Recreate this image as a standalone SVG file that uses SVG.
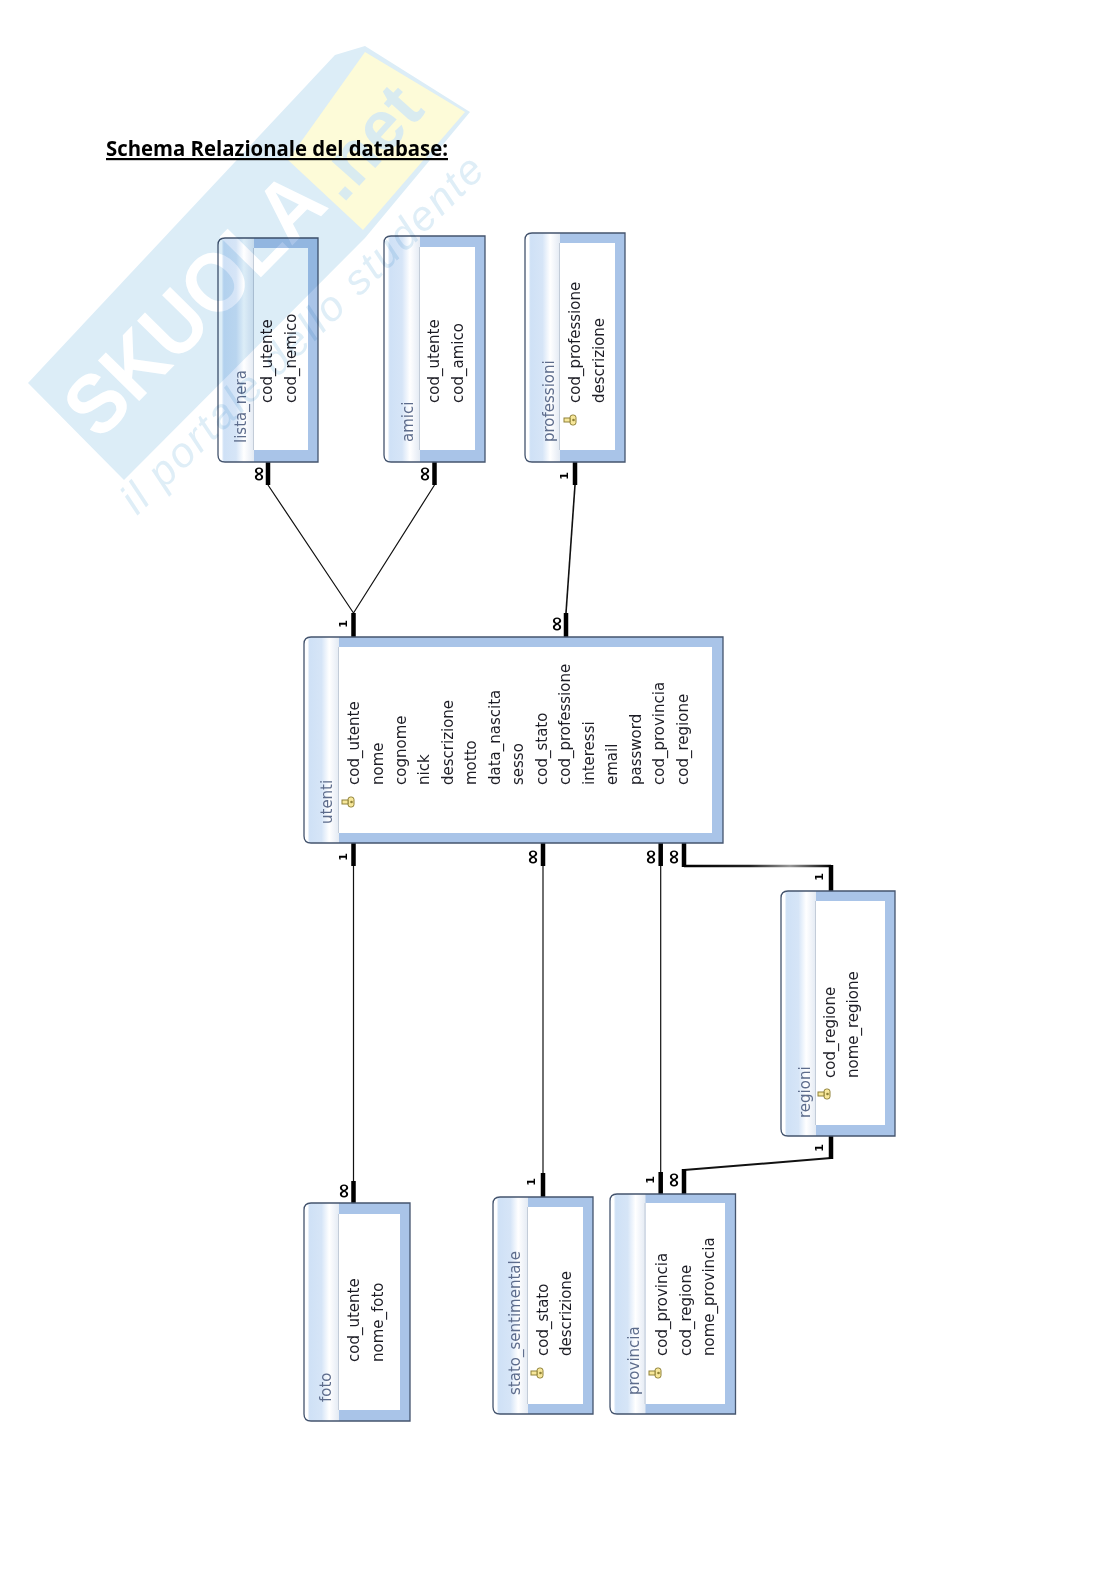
<svg xmlns="http://www.w3.org/2000/svg" xmlns:xlink="http://www.w3.org/1999/xlink" width="1116" height="1579" viewBox="0 0 1116 1579">
<style>
text{font-family:"DejaVu Sans","Liberation Sans",sans-serif}
.f{font-size:15px;fill:#1c1c24}
.t{font-size:15px;fill:#5d6c8c}
.frame{fill:#a9c4e8}
.outline{fill:none;stroke:#44546e;stroke-width:1.3}
.inner{fill:#fff}
.sep{fill:#c3ccd8}
.thick{fill:none;stroke:#000;stroke-width:4.5}
.thin{fill:none;stroke:#111;stroke-width:1.2}
.mid{fill:none;stroke:#111;stroke-width:2}
.c{font-family:"DejaVu Sans",sans-serif;font-weight:700;fill:#000;text-anchor:middle}
.inf{font-size:20px}
.one{font-size:11px}
.title{font-family:"Open Sans","Liberation Sans",sans-serif;font-weight:700;font-size:22px;fill:#000;text-decoration:underline}
</style>
<defs>
<linearGradient id="band" x1="0" y1="0" x2="1" y2="0">
<stop offset="0" stop-color="#fff"/><stop offset="0.1" stop-color="#fff"/><stop offset="0.16" stop-color="#cfe1f6"/><stop offset="0.5" stop-color="#d6e5f7"/><stop offset="0.72" stop-color="#fff"/><stop offset="0.85" stop-color="#f2f5fa"/><stop offset="1" stop-color="#e3eaf3"/>
</linearGradient>
<linearGradient id="fade" gradientUnits="userSpaceOnUse" x1="684" y1="0" x2="831" y2="0">
<stop offset="0" stop-color="#000"/><stop offset="0.45" stop-color="#222"/><stop offset="0.72" stop-color="#999"/><stop offset="1" stop-color="#000"/>
</linearGradient>
<g id="key">
<rect x="-5" y="-3" width="10" height="6" rx="2.5" fill="#f7e79a" stroke="#8f8138" stroke-width="1"/>
<rect x="-2" y="3" width="4" height="6" fill="#f7e79a" stroke="#8f8138" stroke-width="1"/>
<circle cx="0" cy="-0.5" r="1.3" fill="#8f8138"/>
</g>
</defs>
<rect width="1116" height="1579" fill="#fff"/>
<text class="title" x="106" y="156" textLength="342" lengthAdjust="spacingAndGlyphs">Schema Relazionale del database:</text>

<g id="connectors">
<path class="thin" d="M268 485L353.500 613M434.500 485L353.500 613"/>
<path class="mid" d="M575 485L566 613" style="stroke-width:1.6"/>
<path class="thin" d="M353.500 866V1181M543 866V1173M660.700 866V1172"/>
<path d="M684 866H831" fill="none" stroke="url(#fade)" stroke-width="2.500"/>
<path class="mid" d="M831 1158L684 1170"/>
<path class="thick" d="M268 462V485M434.500 462V485M575 462V485M353.500 613V637M566 613V637M353.500 843V866M543 843V866M660.700 843V866M684 843V867M831 865V891M831 1136V1159M684 1169V1194M660.700 1172V1194M543 1173V1197M353.500 1181V1203"/>
<g class="c">
<text class="inf" transform="translate(264.500 474) rotate(-90)">∞</text>
<text class="inf" transform="translate(430.500 474) rotate(-90)">∞</text>
<text class="one" transform="translate(568 476) rotate(-90)">1</text>
<text class="one" transform="translate(346.500 624) rotate(-90)">1</text>
<text class="inf" transform="translate(562.500 624) rotate(-90)">∞</text>
<text class="one" transform="translate(346.500 857) rotate(-90)">1</text>
<text class="inf" transform="translate(538.500 857) rotate(-90)">∞</text>
<text class="inf" transform="translate(656.500 857) rotate(-90)">∞</text>
<text class="inf" transform="translate(679.500 857) rotate(-90)">∞</text>
<text class="one" transform="translate(823 877) rotate(-90)">1</text>
<text class="one" transform="translate(823 1148) rotate(-90)">1</text>
<text class="inf" transform="translate(350 1191) rotate(-90)">∞</text>
<text class="one" transform="translate(535 1182) rotate(-90)">1</text>
<text class="one" transform="translate(654 1180) rotate(-90)">1</text>
<text class="inf" transform="translate(679.500 1180) rotate(-90)">∞</text>
</g>
</g>

<g id="lista_nera">
<path class="frame" d="M225 238H318V462H225Q218 462 218 455V245Q218 238 225 238Z"/>
<path d="M225 238H254V462H225Q218 462 218 455V245Q218 238 225 238Z" fill="url(#band)"/>
<rect class="inner" x="254" y="248" width="54" height="202"/>
<rect class="sep" x="253" y="248" width="1" height="202"/>
<path class="outline" d="M225 238H318V462H225Q218 462 218 455V245Q218 238 225 238Z"/>
<text class="t" transform="translate(246 443) rotate(-90)">lista_nera</text>
<text class="f" transform="translate(272 403) rotate(-90)">cod_utente</text>
<text class="f" transform="translate(296 403) rotate(-90)">cod_nemico</text>
</g>

<g id="amici">
<path class="frame" d="M391 236H485V462H391Q384 462 384 455V243Q384 236 391 236Z"/>
<path d="M391 236H420V462H391Q384 462 384 455V243Q384 236 391 236Z" fill="url(#band)"/>
<rect class="inner" x="420" y="247" width="55" height="203"/>
<rect class="sep" x="419" y="247" width="1" height="203"/>
<path class="outline" d="M391 236H485V462H391Q384 462 384 455V243Q384 236 391 236Z"/>
<text class="t" transform="translate(413 442) rotate(-90)">amici</text>
<text class="f" transform="translate(439 403) rotate(-90)">cod_utente</text>
<text class="f" transform="translate(463 403) rotate(-90)">cod_amico</text>
</g>

<g id="professioni">
<path class="frame" d="M532 233H625V462H532Q525 462 525 455V240Q525 233 532 233Z"/>
<path d="M532 233H560V462H532Q525 462 525 455V240Q525 233 532 233Z" fill="url(#band)"/>
<rect class="inner" x="560" y="243" width="55" height="207"/>
<rect class="sep" x="559" y="243" width="1" height="207"/>
<path class="outline" d="M532 233H625V462H532Q525 462 525 455V240Q525 233 532 233Z"/>
<text class="t" transform="translate(554 442) rotate(-90)">professioni</text>
<use xlink:href="#key" href="#key" transform="translate(573 420) rotate(90)"/>
<text class="f" transform="translate(580 403) rotate(-90)">cod_professione</text>
<text class="f" transform="translate(604 403) rotate(-90)">descrizione</text>
</g>

<g id="utenti">
<path class="frame" d="M311 637H723V843H311Q304 843 304 836V644Q304 637 311 637Z"/>
<path d="M311 637H339V843H311Q304 843 304 836V644Q304 637 311 637Z" fill="url(#band)"/>
<rect class="inner" x="339" y="647" width="373" height="186"/>
<rect class="sep" x="338" y="647" width="1" height="186"/>
<path class="outline" d="M311 637H723V843H311Q304 843 304 836V644Q304 637 311 637Z"/>
<text class="t" transform="translate(332 824) rotate(-90)">utenti</text>
<use xlink:href="#key" href="#key" transform="translate(351 802) rotate(90)"/>
<text class="f" transform="translate(359 785) rotate(-90)">cod_utente</text>
<text class="f" transform="translate(382.500 785) rotate(-90)">nome</text>
<text class="f" transform="translate(406 785) rotate(-90)">cognome</text>
<text class="f" transform="translate(429.400 785) rotate(-90)">nick</text>
<text class="f" transform="translate(452.800 785) rotate(-90)">descrizione</text>
<text class="f" transform="translate(476.300 785) rotate(-90)">motto</text>
<text class="f" transform="translate(499.800 785) rotate(-90)">data_nascita</text>
<text class="f" transform="translate(523.200 785) rotate(-90)">sesso</text>
<text class="f" transform="translate(546.700 785) rotate(-90)">cod_stato</text>
<text class="f" transform="translate(570.200 785) rotate(-90)">cod_professione</text>
<text class="f" transform="translate(593.600 785) rotate(-90)">interessi</text>
<text class="f" transform="translate(617 785) rotate(-90)">email</text>
<text class="f" transform="translate(640.500 785) rotate(-90)">password</text>
<text class="f" transform="translate(664 785) rotate(-90)">cod_provincia</text>
<text class="f" transform="translate(687.500 785) rotate(-90)">cod_regione</text>
</g>

<g id="regioni">
<path class="frame" d="M788 891H895V1136H788Q781 1136 781 1129V898Q781 891 788 891Z"/>
<path d="M788 891H816V1136H788Q781 1136 781 1129V898Q781 891 788 891Z" fill="url(#band)"/>
<rect class="inner" x="816" y="901" width="69" height="224"/>
<rect class="sep" x="815" y="901" width="1" height="224"/>
<path class="outline" d="M788 891H895V1136H788Q781 1136 781 1129V898Q781 891 788 891Z"/>
<text class="t" transform="translate(810 1118) rotate(-90)">regioni</text>
<use xlink:href="#key" href="#key" transform="translate(827 1094) rotate(90)"/>
<text class="f" transform="translate(834.500 1078) rotate(-90)">cod_regione</text>
<text class="f" transform="translate(858 1078) rotate(-90)">nome_regione</text>
</g>

<g id="foto">
<path class="frame" d="M311 1203H410V1421H311Q304 1421 304 1414V1210Q304 1203 311 1203Z"/>
<path d="M311 1203H339V1421H311Q304 1421 304 1414V1210Q304 1203 311 1203Z" fill="url(#band)"/>
<rect class="inner" x="339" y="1214" width="61" height="196"/>
<rect class="sep" x="338" y="1214" width="1" height="196"/>
<path class="outline" d="M311 1203H410V1421H311Q304 1421 304 1414V1210Q304 1203 311 1203Z"/>
<text class="t" transform="translate(331 1402) rotate(-90)">foto</text>
<text class="f" transform="translate(359 1362) rotate(-90)">cod_utente</text>
<text class="f" transform="translate(382.500 1362) rotate(-90)">nome_foto</text>
</g>

<g id="stato_sentimentale">
<path class="frame" d="M500 1197H593V1414H500Q493 1414 493 1407V1204Q493 1197 500 1197Z"/>
<path d="M500 1197H528V1414H500Q493 1414 493 1407V1204Q493 1197 500 1197Z" fill="url(#band)"/>
<rect class="inner" x="528" y="1207" width="55" height="197"/>
<rect class="sep" x="527" y="1207" width="1" height="197"/>
<path class="outline" d="M500 1197H593V1414H500Q493 1414 493 1407V1204Q493 1197 500 1197Z"/>
<text class="t" transform="translate(520 1395) rotate(-90)">stato_sentimentale</text>
<use xlink:href="#key" href="#key" transform="translate(540 1373) rotate(90)"/>
<text class="f" transform="translate(547.500 1356) rotate(-90)">cod_stato</text>
<text class="f" transform="translate(571 1356) rotate(-90)">descrizione</text>
</g>

<g id="provincia">
<path class="frame" d="M617 1194H735.500V1414H617Q610 1414 610 1407V1201Q610 1194 617 1194Z"/>
<path d="M617 1194H645.500V1414H617Q610 1414 610 1407V1201Q610 1194 617 1194Z" fill="url(#band)"/>
<rect class="inner" x="645.500" y="1203" width="79.500" height="201"/>
<rect class="sep" x="644.500" y="1203" width="1" height="201"/>
<path class="outline" d="M617 1194H735.500V1414H617Q610 1414 610 1407V1201Q610 1194 617 1194Z"/>
<text class="t" transform="translate(639 1395) rotate(-90)">provincia</text>
<use xlink:href="#key" href="#key" transform="translate(658 1373) rotate(90)"/>
<text class="f" transform="translate(667 1356) rotate(-90)">cod_provincia</text>
<text class="f" transform="translate(690.500 1356) rotate(-90)">cod_regione</text>
<text class="f" transform="translate(713.500 1356) rotate(-90)">nome_provincia</text>
</g>

<g id="watermark" style="mix-blend-mode:multiply">
<polygon points="28,383 335,55 365,46 470,112 365,238 124,480" fill="#dcedf7"/>
<polygon points="365,52 465,112 363,230 288,160" fill="#fdfbd8"/>
<text transform="translate(99 442) rotate(-45.500)" font-size="84" font-weight="700" fill="#fff" textLength="330" lengthAdjust="spacingAndGlyphs" style="font-family:'Liberation Sans',sans-serif">SKUOLA</text>
<text transform="translate(343 204) rotate(-48)" font-size="70" font-weight="700" fill="#d9ebf0" style="font-family:'Liberation Sans',sans-serif">.net</text>
<text transform="translate(137 516) rotate(-44.500)" font-size="42" font-style="italic" fill="#dfeef7" textLength="490" lengthAdjust="spacing" style="font-family:'Liberation Sans',sans-serif">il portale dello studente</text>
</g>
</svg>
